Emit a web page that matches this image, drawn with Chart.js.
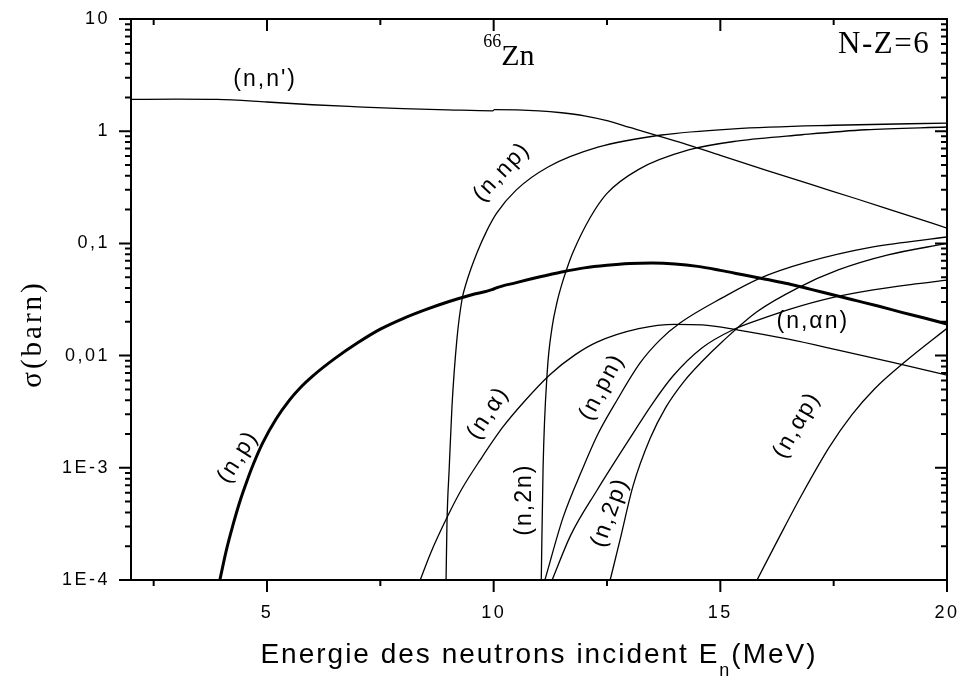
<!DOCTYPE html>
<html>
<head>
<meta charset="utf-8">
<title>66Zn</title>
<script src="https://cdn.jsdelivr.net/npm/chart.js@4.4.1/dist/chart.umd.min.js"></script>
<style>
  html, body { margin: 0; padding: 0; background: #fff; }
</style>
</head>
<body>
<canvas id="sigmaChart" width="964" height="680"></canvas>
<script>
// sections efficaces 66Zn, [E (MeV), sigma (barn)]
const nnPrime = [[2,1.92],[3,1.93],[3.9,1.92],[5,1.82],[6,1.72],[7,1.65],[8,1.59],[9,1.55],[9.98,1.52],[10.02,1.56],[11,1.52],[11.5,1.46],[12,1.37],[12.5,1.24],[13,1.08],[14,0.82],[15,0.61],[16,0.45],[17,0.335],[18,0.25],[19,0.185],[20,0.137]];
const nP = [[3.96,1e-4],[4.1,1.82e-4],[4.25,3.1e-4],[4.4,4.99e-4],[4.55,7.48e-4],[4.7,1.08e-3],[4.9,1.65e-3],[5.2,2.72e-3],[5.5,4.03e-3],[5.75,5.25e-3],[6,6.53e-3],[6.5,9.44e-3],[7,0.0130],[7.5,0.0172],[8,0.0214],[8.5,0.0257],[9,0.0302],[9.5,0.0347],[9.98,0.0389],[10.03,0.0398],[10.5,0.0447],[11,0.0501],[11.5,0.0556],[12,0.0605],[12.5,0.0638],[13,0.0661],[13.5,0.0668],[14,0.0656],[14.5,0.0624],[15,0.0575],[15.5,0.0525],[16,0.0479],[16.5,0.0437],[17,0.0389],[17.5,0.0347],[18,0.0309],[18.5,0.0275],[19,0.0243],[19.5,0.0216],[20,0.0191]];
const nNP = [[8.95,1e-4],[8.97,3.2e-4],[9.02,1e-3],[9.08,3.5e-3],[9.19,0.0141],[9.3,0.0313],[9.4,0.045],[9.63,0.082],[9.85,0.13],[10.07,0.187],[10.5,0.30],[11.2,0.48],[12.3,0.72],[13.7,0.925],[15.3,1.05],[17.5,1.13],[20,1.18]];
const n2N = [[11.05,1e-4],[11.09,1e-3],[11.18,7e-3],[11.29,0.018],[11.4,0.0302],[11.5,0.0427],[11.62,0.0603],[11.75,0.0832],[12.13,0.17],[12.5,0.279],[13.2,0.457],[14.3,0.68],[15.4,0.82],[16.8,0.93],[18.2,1.03],[20,1.09]];
const nAlpha = [[8.38,1e-4],[8.6,1.7e-4],[8.97,3.6e-4],[9.3,6.5e-4],[9.7,1.17e-3],[10.2,2.3e-3],[10.7,4e-3],[11.24,6.76e-3],[11.8,0.0102],[12.28,0.0132],[13.2,0.0174],[14,0.019],[14.6,0.0188],[15.4,0.0169],[16.5,0.014],[17.6,0.0112],[18.8,8.7e-3],[20,6.7e-3]];
const nPN = [[11.13,1e-4],[11.53,3.6e-4],[11.97,1e-3],[12.3,2e-3],[12.72,4e-3],[13.23,8.6e-3],[13.67,0.0138],[14.11,0.0195],[15.06,0.033],[15.88,0.049],[16.91,0.068],[18.37,0.093],[20,0.114]];
const nAlphaN = [[11.29,1e-4],[11.7,2.51e-4],[12.28,6.31e-4],[13,1.82e-3],[13.5,3.72e-3],[13.96,6.61e-3],[14.6,0.01175],[15.28,0.017],[16,0.0219],[16.54,0.026],[17.4,0.0324],[18.37,0.0385],[19.2,0.043],[20,0.047]];
const n2P = [[12.57,1e-4],[12.79,2.3e-4],[13.07,6.8e-4],[13.45,1.82e-3],[13.8,3.47e-3],[14.2,5.9e-3],[14.6,8.9e-3],[15.06,0.0135],[15.8,0.0245],[16.7,0.040],[17.6,0.058],[18.7,0.079],[20,0.10]];
const nAlphaP = [[15.81,1e-4],[16.3,2.41e-4],[16.8,5.78e-4],[17.4,1.52e-3],[17.9,2.96e-3],[18.4,5.04e-3],[19.1,8.99e-3],[20,0.0175]];

// graduations
const xTicks = [5, 10, 15, 20];
const xMinor = [2.5, 7.5, 12.5, 17.5];
const yTicks = [1e-4, 1e-3, 0.01, 0.1, 1, 10];
const yTickText = ['1E-4', '1E-3', '0,01', '0,1', '1', '10'];

// étiquettes des réactions: texte, E, sigma, angle
const reactionLabels = [
  ["(n,n')", 4.96, 2.86, 0],
  ['(n,np)', 10.18, 0.433, -47],
  ['(n,p)', 4.36, 1.25e-3, -58],
  ['(n,\u03b1)', 9.88, 3.08e-3, -57],
  ['(n,2n)', 10.69, 5.2e-4, -90],
  ['(n,pn)', 12.39, 5.25e-3, -62],
  ['(n,2p)', 12.57, 4.0e-4, -70],
  ['(n,\u03b1p)', 16.69, 2.4e-3, -60],
  ['(n,\u03b1n)', 17.04, 0.02, 0]
];

const series = [nnPrime, nNP, n2N, nAlpha, nPN, nAlphaN, n2P, nAlphaP, nP];

const yMinor = [];
for (let d = -4; d < 1; d++) {
  for (let k = 2; k <= 9; k++) yMinor.push(k * Math.pow(10, d));
}

const sans = "'Liberation Sans', Arial, sans-serif";
const serif = "'Liberation Serif', 'Times New Roman', serif";

Chart.defaults.font.family = sans;
Chart.defaults.font.size = 18;
Chart.defaults.color = '#000';

const axesAndText = {
  id: 'axesAndText',
  beforeDraw(chart) {
    chart.ctx.letterSpacing = '2.5px';
  },
  afterDraw(chart) {
    const { ctx, chartArea: a, scales: { x, y } } = chart;
    ctx.save();
    ctx.letterSpacing = '0px';
    ctx.strokeStyle = '#000';
    ctx.lineWidth = 2;
    ctx.strokeRect(a.left, a.top, a.right - a.left, a.bottom - a.top);

    ctx.beginPath();
    const vTick = (px, len) => {
      ctx.moveTo(px, a.bottom); ctx.lineTo(px, a.bottom + len);
      ctx.moveTo(px, a.top); ctx.lineTo(px, a.top + len);
    };
    const hTick = (py, len) => {
      ctx.moveTo(a.left, py); ctx.lineTo(a.left - len, py);
      ctx.moveTo(a.right, py); ctx.lineTo(a.right - len, py);
    };
    xTicks.forEach(v => vTick(x.getPixelForValue(v), 12));
    xMinor.forEach(v => vTick(x.getPixelForValue(v), 6));
    yTicks.forEach(v => hTick(y.getPixelForValue(v), 12));
    yMinor.forEach(v => hTick(y.getPixelForValue(v), 6));
    ctx.stroke();

    ctx.fillStyle = '#000';

    // étiquettes des courbes
    ctx.font = '23px ' + sans;
    ctx.letterSpacing = '2px';
    ctx.textAlign = 'center';
    ctx.textBaseline = 'middle';
    reactionLabels.forEach(([t, e, s, ang]) => {
      ctx.save();
      ctx.translate(x.getPixelForValue(e), y.getPixelForValue(s));
      ctx.rotate(ang * Math.PI / 180);
      ctx.fillText(t, 0, 0);
      ctx.restore();
    });

    // 66Zn
    ctx.letterSpacing = '0px';
    ctx.textAlign = 'left';
    ctx.textBaseline = 'alphabetic';
    const zx = x.getPixelForValue(9.77), zy = y.getPixelForValue(3.89);
    ctx.font = '18px ' + serif;
    ctx.fillText('66', zx, zy - 18);
    const w66 = ctx.measureText('66').width;
    ctx.font = '30px ' + serif;
    ctx.fillText('Zn', zx + w66, zy);

    // N-Z=6
    ctx.textAlign = 'right';
    ctx.letterSpacing = '1.5px';
    ctx.font = '31px ' + serif;
    ctx.fillText('N-Z=6', x.getPixelForValue(19.63), y.getPixelForValue(4.98));

    // titre de l'axe x avec indice
    ctx.textAlign = 'left';
    ctx.letterSpacing = '2px';
    const part1 = 'Energie des neutrons incident E';
    const part2 = '(MeV)';
    ctx.font = '28px ' + sans;
    const w1 = ctx.measureText(part1).width;
    const w3 = ctx.measureText(part2).width;
    ctx.font = '18px ' + sans;
    const w2 = ctx.measureText('n').width;
    const tx = (a.left + a.right) / 2 - (w1 + w2 + w3) / 2;
    const ty = 663;
    ctx.font = '28px ' + sans;
    ctx.fillText(part1, tx, ty);
    ctx.font = '18px ' + sans;
    ctx.fillText('n', tx + w1, ty + 13);
    ctx.font = '28px ' + sans;
    ctx.fillText(part2, tx + w1 + w2, ty);

    // titre de l'axe y
    ctx.save();
    ctx.translate(33, 334);
    ctx.rotate(-Math.PI / 2);
    ctx.textAlign = 'center';
    ctx.textBaseline = 'middle';
    ctx.letterSpacing = '3px';
    ctx.font = '29px ' + serif;
    ctx.fillText('\u03c3(barn)', 0, 0);
    ctx.restore();

    ctx.restore();
    ctx.letterSpacing = '0px';
  }
};

const chart = new Chart(document.getElementById('sigmaChart'), {
  type: 'line',
  data: {
    datasets: series.map(s => ({
      data: s.map(([e, v]) => ({ x: e, y: v })),
      borderColor: '#000',
      borderWidth: s === nP ? 3 : 1.3,
      cubicInterpolationMode: 'monotone',
      pointRadius: 0,
      fill: false
    }))
  },
  options: {
    responsive: false,
    animation: false,
    devicePixelRatio: 1,
    layout: { padding: { top: 19, right: 17, left: 0, bottom: 0 } },
    plugins: {
      legend: { display: false },
      tooltip: { enabled: false }
    },
    scales: {
      x: {
        type: 'linear',
        min: 2,
        max: 20,
        grid: { display: false, drawTicks: false },
        border: { display: false },
        afterBuildTicks: s => { s.ticks = xTicks.map(v => ({ value: v })); },
        afterFit: s => { s.height = 100; s.paddingLeft = 0; s.paddingRight = 0; },
        ticks: {
          padding: 22,
          maxRotation: 0,
          autoSkip: false,
          color: '#000',
          font: { family: sans, size: 18 }
        }
      },
      y: {
        type: 'logarithmic',
        min: 1e-4,
        max: 10,
        grid: { display: false, drawTicks: false },
        border: { display: false },
        afterBuildTicks: s => { s.ticks = yTicks.map(v => ({ value: v })); },
        afterFit: s => { s.width = 131; s.paddingTop = 0; s.paddingBottom = 0; },
        ticks: {
          padding: 21,
          autoSkip: false,
          color: '#000',
          font: { family: sans, size: 18 },
          callback: (v, i) => yTickText[i]
        }
      }
    }
  },
  plugins: [axesAndText]
});
</script>
</body>
</html>
